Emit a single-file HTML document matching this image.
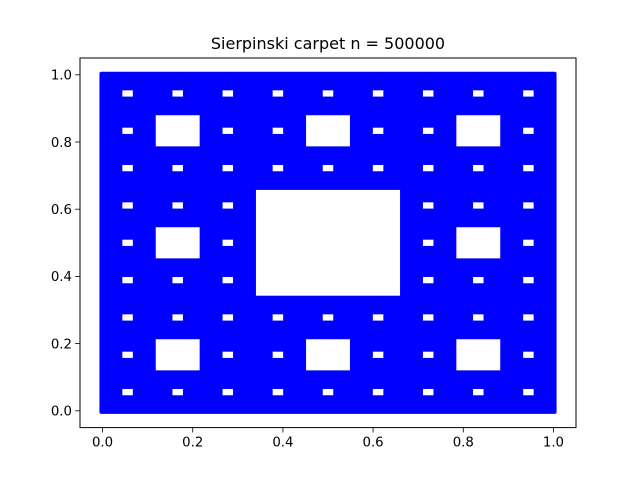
<!DOCTYPE html>
<html><head><meta charset="utf-8"><style>
body{margin:0;background:#fff}
svg{display:block}
text{font-family:"DejaVu Sans","Liberation Sans",sans-serif;fill:#000}
</style></head><body>
<svg id="chart" width="640" height="480" viewBox="0 0 640 480" xmlns="http://www.w3.org/2000/svg">
<rect width="640" height="480" fill="#fff"/>
<g id="plot"></g>
<rect x="80" y="58" width="496" height="369.6" fill="none" stroke="#000" stroke-width="1"/>
<g id="xt"></g>
<g id="yt"></g>
<text x="328" y="49" font-size="16" text-anchor="middle">Sierpinski carpet n = 500000</text>
</svg>
<script>
const xTicks = [0.0, 0.2, 0.4, 0.6, 0.8, 1.0];
const yTicks = [0.0, 0.2, 0.4, 0.6, 0.8, 1.0];
const xTickLabels = ["0.0","0.2","0.4","0.6","0.8","1.0"];
const yTickLabels = ["0.0","0.2","0.4","0.6","0.8","1.0"];
const carpetExtent = [0, 1];
const holeLevels = [1, 2, 3];
const markerRadius = 3.1;
const NS = "http://www.w3.org/2000/svg";
const X0=80, X1=576, Y0=58, Y1=427.6, DMIN=-0.05, DMAX=1.05;
const sx = v => X0 + (v-DMIN)/(DMAX-DMIN)*(X1-X0);
const sy = v => Y1 - (v-DMIN)/(DMAX-DMIN)*(Y1-Y0);
function mk(tag, attrs, parent){const e=document.createElementNS(NS,tag);for(const k in attrs)e.setAttribute(k,attrs[k]);parent.appendChild(e);return e;}
const plot=document.getElementById('plot');
const r=markerRadius;
const bg=mk('rect',{x:sx(carpetExtent[0])-r,y:sy(carpetExtent[1])-r,width:sx(carpetExtent[1])-sx(carpetExtent[0])+2*r,height:sy(carpetExtent[0])-sy(carpetExtent[1])+2*r,rx:2,fill:'#0000ff'},plot);


function holes(x,y,s,level,maxL){
  if(level>maxL) return;
  const t=s/3;
  if(holeLevels.includes(level)){
    const w=sx(x+2*t)-sx(x+t)-2*r, h=sy(y+t)-sy(y+2*t)-2*r;
    if(w>0&&h>0){
      const e=mk('rect',{x:sx(x+t)+r,y:sy(y+2*t)+r,width:w,height:h,fill:'#fff'},plot);
      
      
    }
  }
  for(let i=0;i<3;i++)for(let j=0;j<3;j++){if(i===1&&j===1)continue;holes(x+i*t,y+j*t,t,level+1,maxL);}
}
holes(carpetExtent[0],carpetExtent[0],carpetExtent[1]-carpetExtent[0],1,Math.max(...holeLevels));
const xt=document.getElementById('xt');
xTicks.forEach((v,i)=>{const x=sx(v);
  const l=mk('line',{x1:x,x2:x,y1:Y1,y2:Y1+4.9,stroke:'#000','stroke-width':0.8},xt);
  
  
  const t=mk('text',{x:x,y:Y1+19,'font-size':13.3,'text-anchor':'middle'},xt);t.textContent=xTickLabels[i];
  
  
});
const yt=document.getElementById('yt');
yTicks.forEach((v,i)=>{const y=sy(v);
  const l=mk('line',{x1:X0-4.9,x2:X0,y1:y,y2:y,stroke:'#000','stroke-width':0.8},yt);
  
  
  const t=mk('text',{x:X0-8,y:y+4.8,'font-size':13.3,'text-anchor':'end'},yt);t.textContent=yTickLabels[i];
  
  
});
</script>
</body></html>
